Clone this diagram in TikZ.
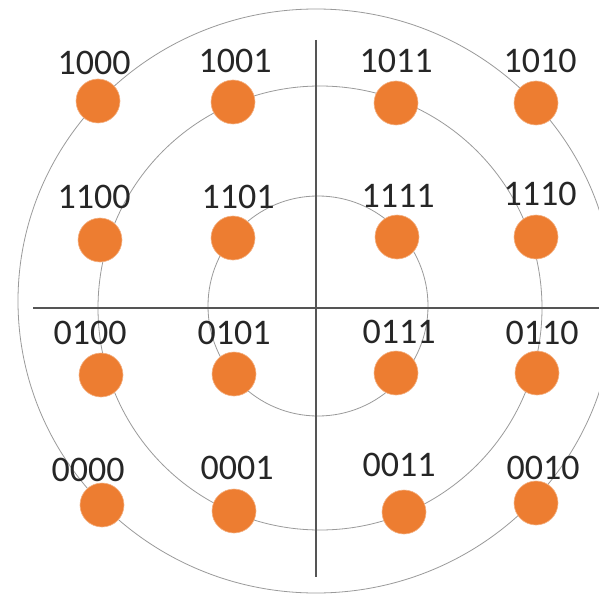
\documentclass[tikz,border=0pt]{standalone}
\usepackage{fontspec}
\setmainfont{Carlito}
\definecolor{dotorange}{HTML}{ED7D31}
\definecolor{ringgray}{HTML}{9A9A9A}
\definecolor{axisgray}{HTML}{555555}
\begin{document}
\begin{tikzpicture}[x=1pt,y=-1pt,
  ring/.style={draw=ringgray,line width=0.8pt},
  axisline/.style={draw=axisgray,line width=1.4pt},
  sym/.style={circle,fill=dotorange,draw=dotorange!60!white,line width=0.6pt,minimum size=44pt,inner sep=0pt},
  lbl/.style={font=\fontsize{36}{36}\selectfont,text=black!85,inner sep=0pt,anchor=center}]
\useasboundingbox (0,0) rectangle (599,596);
\fill[white] (0,0) rectangle (599,596);
% rings
\draw[ring] (316,301) ellipse [x radius=298, y radius=292];
\draw[ring] (320,308) circle [radius=222];
\draw[ring] (318,306) circle [radius=110];
% axes
\coordinate (vt) at (316,40);
\coordinate (vb) at (316,577);
\coordinate (hl) at (33,308);
\coordinate (hr) at (599,308);
\draw[axisline] (vt) -- (vb);
\draw[axisline] (hl) -- (hr);
% symbols
\node[sym] (s1000) at (98,101) {};
\node[sym] (s1001) at (233,102) {};
\node[sym] (s1011) at (396,103) {};
\node[sym] (s1010) at (536,103) {};
\node[sym] (s1100) at (100,240) {};
\node[sym] (s1101) at (233,238) {};
\node[sym] (s1111) at (397,237) {};
\node[sym] (s1110) at (536,237) {};
\node[sym] (s0100) at (101,375) {};
\node[sym] (s0101) at (234,374) {};
\node[sym] (s0111) at (396,373) {};
\node[sym] (s0110) at (537,373) {};
\node[sym] (s0000) at (102,505) {};
\node[sym] (s0001) at (234,511) {};
\node[sym] (s0011) at (404,512) {};
\node[sym] (s0010) at (536,503) {};
% labels
\node[lbl] (l1000) at (94,63) {1000};
\node[lbl] (l1001) at (235,61) {1001};
\node[lbl] (l1011) at (396,61) {1011};
\node[lbl] (l1010) at (540,61) {1010};
\node[lbl] (l1100) at (94,197) {1100};
\node[lbl] (l1101) at (238,197) {1101};
\node[lbl] (l1111) at (398,196) {1111};
\node[lbl] (l1110) at (540,194) {1110};
\node[lbl] (l0100) at (90,333) {0100};
\node[lbl] (l0101) at (234,333) {0101};
\node[lbl] (l0111) at (399,332) {0111};
\node[lbl] (l0110) at (542,333) {0110};
\node[lbl] (l0000) at (88,470) {0000};
\node[lbl] (l0001) at (237,468) {0001};
\node[lbl] (l0011) at (399,465) {0011};
\node[lbl] (l0010) at (543,468) {0010};
\end{tikzpicture}
\end{document}
